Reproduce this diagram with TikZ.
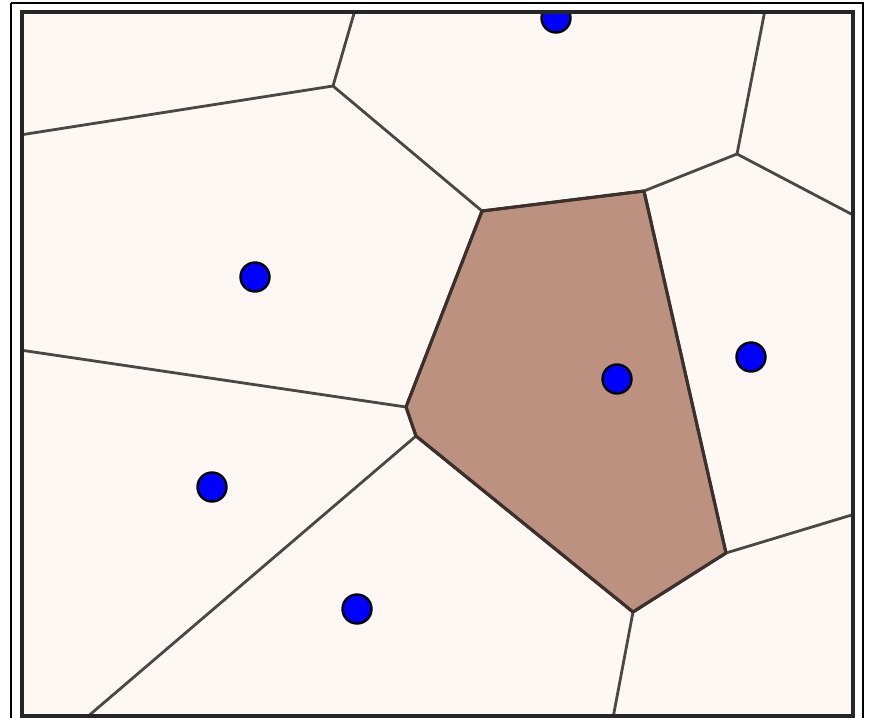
\documentclass[tikz,border=0pt]{standalone}
\definecolor{bgc}{HTML}{FDF8F3}
\definecolor{cellc}{HTML}{BC9180}
\definecolor{edgec}{HTML}{4A4745}
\definecolor{celledge}{HTML}{3A302C}
\tikzset{
  vedge/.style={draw=edgec, line width=2.8bp},
  hcell/.style={fill=cellc, draw=celledge, line width=3bp, line join=round},
  site/.style={circle, fill=blue, draw=black, line width=2.4bp, minimum size=29bp, inner sep=0pt},
}
\begin{document}
\begin{tikzpicture}[x=1bp, y=-1bp]
\useasboundingbox (0,0) rectangle (870,718);
\fill[white] (0,0) rectangle (870,718);
% outer thin frame
\draw[black, line width=2bp] (10.5,3.5) -- (862.5,3.5) -- (862.5,730) (10.5,3.5) -- (10.5,730);
% inner area
\fill[bgc] (22,12) rectangle (853,716);
\begin{scope}
\clip (22,12) rectangle (853,716);
% vertices
\coordinate (A) at (333,86);
\coordinate (B) at (482,211);
\coordinate (C) at (644,191);
\coordinate (E) at (737,154);
\coordinate (D) at (406,407);
\coordinate (G) at (416,436);
\coordinate (H) at (633,612);
\coordinate (F) at (726,553);
% border endpoints
\coordinate (tA) at (355,10);
\coordinate (lA) at (20,135);
\coordinate (tE) at (765,10);
\coordinate (rE) at (855,216);
\coordinate (lD) at (20,350);
\coordinate (bG) at (86,718);
\coordinate (bH) at (613,718);
\coordinate (rF) at (855,514);
% highlighted cell
\path[hcell] (B) -- (C) -- (F) -- (H) -- (G) -- (D) -- cycle;
% edges
\draw[vedge] (tA) -- (A) -- (lA);
\draw[vedge] (A) -- (B);
\draw[vedge] (tE) -- (E) -- (rE);
\draw[vedge] (C) -- (E);
\draw[vedge] (lD) -- (D);
\draw[vedge] (G) -- (bG);
\draw[vedge] (H) -- (bH);
\draw[vedge] (F) -- (rF);
\path[hcell, fill=none] (B) -- (C) -- (F) -- (H) -- (G) -- (D) -- cycle;
% sites
\node[site] (s1) at (556,18) {};
\node[site] (s2) at (255,277) {};
\node[site] (s3) at (617,379) {};
\node[site] (s4) at (751,357) {};
\node[site] (s5) at (212,487) {};
\node[site] (s6) at (357,609) {};
\end{scope}
% inner thick frame
\draw[black!85, line width=3.4bp] (22,12) rectangle (853,716);
\end{tikzpicture}
\end{document}
